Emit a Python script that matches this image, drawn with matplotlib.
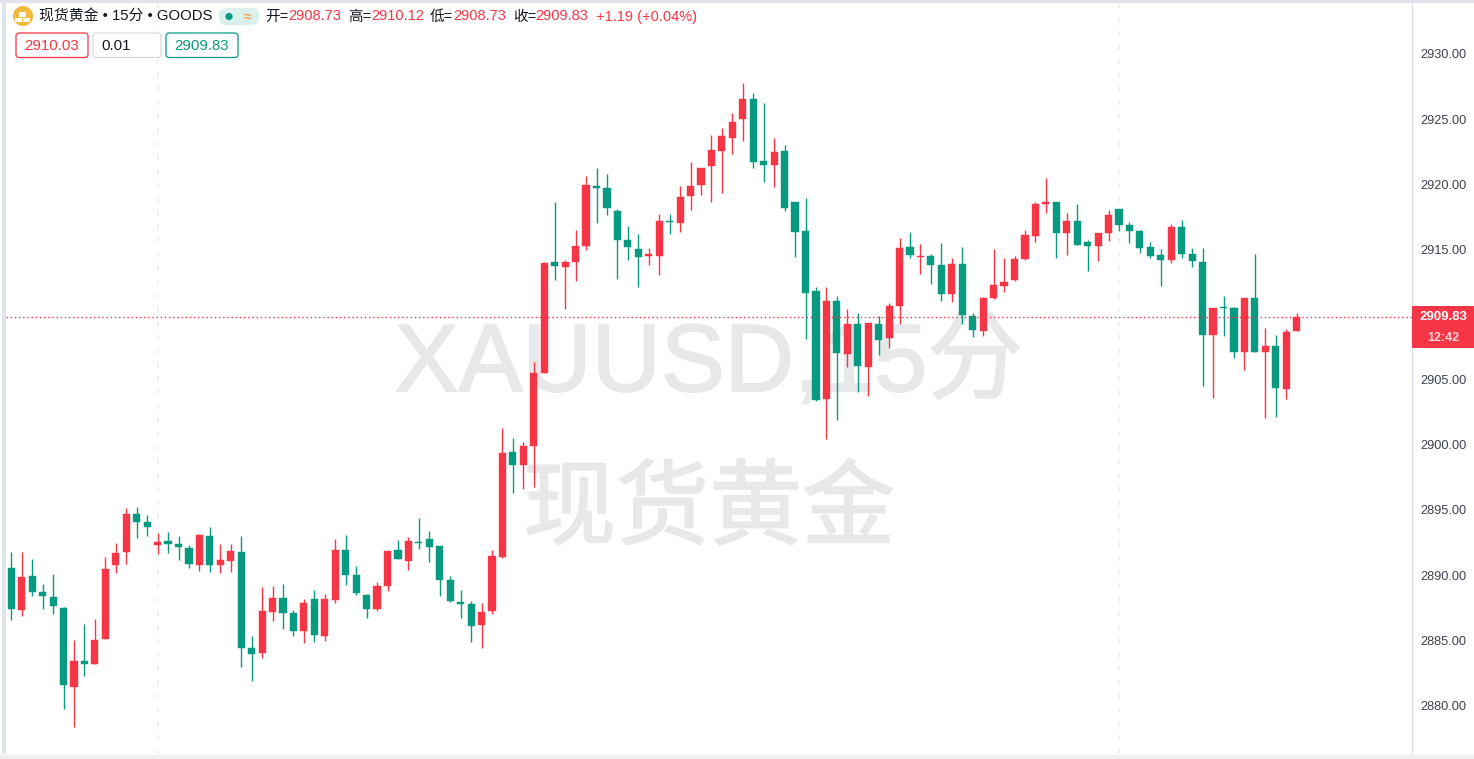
import matplotlib
matplotlib.use("Agg")
import matplotlib.pyplot as plt
import matplotlib.patheffects as pe
from matplotlib.patches import Circle, FancyBboxPatch, Rectangle

plt.rcParams["font.family"] = ["Liberation Sans", "Noto Sans CJK SC", "DejaVu Sans"]

RED = "#F53647"
GREEN = "#089981"
TEXT = "#131722"
AXIS_TEXT = "#3d4250"
FRAME = "#E0E3EB"
MARK = "#E7E8EA"

W, H = 1474, 759

opens = [
    2890.58, 2887.35, 2889.96, 2888.73, 2888.35, 2887.51, 2881.44, 2883.44, 2883.21, 2885.12,
    2890.81, 2891.80, 2894.72, 2894.10, 2892.34, 2892.65, 2892.42, 2892.11, 2890.81, 2893.03,
    2890.81, 2891.11, 2891.80, 2884.43, 2884.05, 2887.20, 2888.27, 2887.12, 2885.74, 2888.20,
    2885.35, 2888.12, 2891.96, 2890.04, 2888.50, 2887.43, 2889.19, 2891.96, 2891.11, 2892.57,
    2892.80, 2892.26, 2889.66, 2887.97, 2887.81, 2886.20, 2887.28, 2891.42, 2899.47, 2898.47,
    2899.93, 2905.53, 2914.06, 2913.67, 2914.06, 2915.29, 2919.89, 2919.74, 2917.98, 2915.75,
    2915.06, 2914.52, 2914.52, 2917.21, 2917.05, 2919.13, 2919.97, 2921.43, 2922.58, 2923.58,
    2925.04, 2926.57, 2921.81, 2921.51, 2922.58, 2918.67, 2916.44, 2911.83, 2903.54, 2911.07,
    2906.99, 2909.30, 2905.99, 2909.30, 2908.23, 2910.68, 2915.21, 2914.44, 2914.52, 2913.83,
    2911.60, 2913.90, 2909.92, 2908.77, 2911.30, 2912.21, 2912.67, 2914.29, 2916.05, 2918.51,
    2918.67, 2916.29, 2917.21, 2915.59, 2915.29, 2916.29, 2918.13, 2916.90, 2916.44, 2915.21,
    2914.60, 2914.21, 2916.75, 2914.67, 2914.06, 2908.46, 2910.61, 2910.53, 2907.15, 2911.30,
    2907.15, 2907.61, 2904.30, 2908.73,
]
highs = [
    2891.80, 2891.80, 2891.27, 2889.35, 2890.12, 2887.58, 2885.05, 2886.28, 2886.66, 2891.42,
    2892.49, 2895.18, 2895.26, 2894.64, 2893.26, 2893.34, 2893.03, 2892.34, 2893.18, 2893.72,
    2892.42, 2892.42, 2893.03, 2885.35, 2889.12, 2889.19, 2889.35, 2887.35, 2888.20, 2888.89,
    2888.58, 2892.80, 2893.11, 2890.73, 2888.58, 2889.50, 2891.88, 2892.72, 2892.95, 2894.41,
    2893.41, 2892.26, 2889.96, 2888.89, 2888.04, 2887.89, 2891.96, 2901.32, 2900.55, 2900.24,
    2906.38, 2914.06, 2918.67, 2914.21, 2916.52, 2920.66, 2921.28, 2920.82, 2918.13, 2916.82,
    2916.21, 2915.13, 2917.75, 2917.75, 2919.89, 2921.74, 2921.28, 2923.81, 2924.35, 2925.50,
    2927.80, 2927.03, 2926.26, 2923.58, 2923.04, 2918.67, 2918.97, 2912.14, 2912.14, 2911.45,
    2910.45, 2910.15, 2909.38, 2909.92, 2910.91, 2915.90, 2916.36, 2915.44, 2914.67, 2915.52,
    2914.36, 2915.21, 2910.15, 2911.37, 2915.06, 2914.36, 2914.52, 2916.52, 2918.67, 2920.51,
    2918.67, 2917.82, 2918.51, 2915.75, 2916.29, 2918.05, 2918.13, 2917.13, 2916.52, 2915.59,
    2915.06, 2916.98, 2917.29, 2915.13, 2915.13, 2910.53, 2911.45, 2910.61, 2911.30, 2914.67,
    2909.00, 2908.46, 2908.92, 2910.12,
]
lows = [
    2886.59, 2886.89, 2888.43, 2887.43, 2887.05, 2879.76, 2878.38, 2882.29, 2883.21, 2885.12,
    2890.19, 2890.88, 2892.88, 2893.03, 2891.65, 2891.73, 2891.19, 2890.58, 2890.35, 2890.27,
    2890.19, 2890.27, 2882.98, 2881.90, 2883.67, 2886.51, 2885.89, 2885.35, 2884.82, 2884.89,
    2884.97, 2887.89, 2889.27, 2888.50, 2886.74, 2887.28, 2888.81, 2891.27, 2890.42, 2892.03,
    2891.04, 2888.43, 2887.97, 2886.74, 2884.89, 2884.43, 2887.05, 2891.34, 2896.32, 2896.63,
    2896.78, 2905.53, 2912.67, 2910.45, 2912.60, 2914.98, 2917.05, 2917.67, 2912.75, 2914.21,
    2912.14, 2913.83, 2913.06, 2916.21, 2916.36, 2918.05, 2919.20, 2918.67, 2919.36, 2922.35,
    2923.35, 2921.28, 2920.20, 2919.82, 2917.98, 2914.44, 2908.15, 2903.39, 2900.47, 2901.93,
    2905.99, 2904.07, 2903.77, 2906.92, 2907.46, 2909.30, 2914.36, 2913.13, 2912.37, 2911.07,
    2910.99, 2909.30, 2908.30, 2908.38, 2911.22, 2911.75, 2912.60, 2914.21, 2915.59, 2917.82,
    2914.36, 2914.60, 2915.37, 2913.37, 2914.13, 2915.67, 2916.44, 2915.52, 2914.75, 2914.36,
    2912.21, 2913.98, 2914.36, 2913.67, 2904.53, 2903.62, 2908.38, 2906.69, 2905.76, 2907.15,
    2902.09, 2902.16, 2903.54, 2908.73,
]
closes = [
    2887.43, 2889.89, 2888.73, 2888.43, 2887.66, 2881.60, 2883.44, 2883.21, 2885.05, 2890.50,
    2891.73, 2894.72, 2894.10, 2893.72, 2892.57, 2892.42, 2892.19, 2890.88, 2893.11, 2890.81,
    2891.19, 2891.88, 2884.43, 2883.97, 2887.28, 2888.27, 2887.12, 2885.74, 2887.89, 2885.43,
    2888.20, 2891.96, 2890.04, 2888.66, 2887.43, 2889.19, 2891.88, 2891.27, 2892.65, 2892.49,
    2892.19, 2889.66, 2888.04, 2887.81, 2886.12, 2887.20, 2891.50, 2899.39, 2898.47, 2899.93,
    2905.53, 2913.98, 2913.75, 2914.06, 2915.29, 2919.97, 2919.74, 2918.21, 2915.75, 2915.21,
    2914.44, 2914.67, 2917.21, 2917.13, 2919.05, 2919.89, 2921.28, 2922.66, 2923.73, 2924.81,
    2926.57, 2921.74, 2921.51, 2922.50, 2918.21, 2916.36, 2911.68, 2903.47, 2911.07, 2907.07,
    2909.30, 2906.07, 2909.38, 2908.07, 2910.68, 2915.13, 2914.60, 2914.52, 2913.83, 2911.60,
    2913.90, 2910.00, 2908.84, 2911.30, 2912.29, 2912.52, 2914.29, 2916.13, 2918.51, 2918.67,
    2916.29, 2917.21, 2915.37, 2915.29, 2916.29, 2917.67, 2916.90, 2916.44, 2915.13, 2914.52,
    2914.21, 2916.75, 2914.67, 2914.13, 2908.46, 2910.53, 2910.53, 2907.15, 2911.30, 2907.15,
    2907.61, 2904.38, 2908.69, 2909.83,
]
y_ticks = [2880, 2885, 2890, 2895, 2900, 2905, 2915, 2920, 2925, 2930]
grid_bars = [14, 106]
last_price = 2909.83

fig = plt.figure(figsize=(W / 100, H / 100), dpi=100, facecolor="white")

# price pane, in pixels: x 6..1412, y 2..754
ax = fig.add_axes([6 / W, (H - 754) / H, 1406 / W, 752 / H])
ax.set_xlim((6 - 11.3) / 10.45, (1412 - 11.3) / 10.45)
ax.set_ylim(2876.27, 2933.99)
ax.set_zorder(1)
for side in ["top", "left", "bottom"]:
    ax.spines[side].set_visible(False)
ax.spines["right"].set_color(FRAME)
ax.spines["right"].set_linewidth(1)
ax.set_xticks([])
ax.yaxis.tick_right()
ax.set_yticks(y_ticks)
ax.set_yticklabels([f"{t}.00" for t in y_ticks])
ax.tick_params(axis="y", length=0, pad=6, labelsize=9.2, labelcolor=AXIS_TEXT)

for b in grid_bars:
    ax.axvline(b, color="#F0F1F6", lw=1.4, linestyle=(0, (2.6, 4.5)), zorder=0)

# watermark sits under the candles
heavy = [pe.withStroke(linewidth=1.3, foreground=MARK)]
ax.text(0.5, 0.5165, "XAUUSD,15分", transform=ax.transAxes, ha="center", va="center",
        fontsize=69, color=MARK, zorder=0.5, path_effects=heavy)
ax.text(0.5, 0.3205, "现货黄金", transform=ax.transAxes, ha="center", va="center",
        fontsize=67, color=MARK, zorder=0.5, path_effects=heavy)

xs = list(range(len(opens)))
colors = [RED if c >= o else GREEN for o, c in zip(opens, closes)]
bottoms = [min(o, c) for o, c in zip(opens, closes)]
heights = [abs(c - o) for o, c in zip(opens, closes)]

ax.vlines(xs, lows, highs, colors=colors, lw=1.0, zorder=2)
ax.bar(xs, heights, width=0.68, bottom=bottoms, color=colors, linewidth=0.3, edgecolor=colors, zorder=3)

ax.axhline(last_price, color=RED, lw=1.0, linestyle=(0, (1.0, 2.0)), zorder=4)

# overlay in pixel coordinates for the toolbar, legend and price tag
ui = fig.add_axes([0, 0, 1, 1])
ui.set_xlim(0, W)
ui.set_ylim(H, 0)
ui.axis("off")
ui.patch.set_alpha(0)
ui.set_zorder(2)

ui.add_patch(Rectangle((0, 0), W, 2.5, color=FRAME, lw=0))
ui.add_patch(Rectangle((2, 0), 4, 754, color=FRAME, lw=0))
ui.add_patch(Rectangle((0, 755), W, 4, color="#EFEFEF", lw=0))

# gold icon
ui.add_patch(Circle((23, 16), 10, color="#F0B93F", lw=0))
for bx, by in [(19.5, 12), (15.5, 17.5), (23.5, 17.5)]:
    ui.add_patch(Rectangle((bx, by), 6.5, 4.5, color="white", lw=0))

ui.text(39, 16, "现货黄金 • 15分 • GOODS", fontsize=10.7, color=TEXT, ha="left", va="center")

# market status pill
ui.add_patch(FancyBboxPatch((219, 8), 40, 17, boxstyle="round,pad=0,rounding_size=7",
                            fc="#DAF0EC", ec="none"))
ui.add_patch(Circle((229, 16.5), 3.6, color=GREEN, lw=0))
ui.text(248, 16.5, "≈", fontsize=10, color="#F7A35C", ha="center", va="center", fontweight="bold")

ohlc_text = [
    (265, "开=", TEXT), (288, "2908.73", RED),
    (348, "高=", TEXT), (371, "2910.12", RED),
    (430, "低=", TEXT), (453, "2908.73", RED),
    (513, "收=", TEXT), (535, "2909.83", RED),
    (596, "+1.19 (+0.04%)", RED),
]
for tx, s, col in ohlc_text:
    ui.text(tx, 16.5, s, fontsize=10.5, color=col, ha="left", va="center")

# bid / spread / ask boxes
boxes = [
    (16, 72, "2910.03", RED, RED),
    (93, 68, "0.01", "#D8DAE3", TEXT),
    (166, 72, "2909.83", GREEN, GREEN),
]
for bx, bw, s, edge, col in boxes:
    ui.add_patch(FancyBboxPatch((bx, 33), bw, 24.5, boxstyle="round,pad=0,rounding_size=3",
                                fc="white", ec=edge, lw=0.9))
    if s == "0.01":
        ui.text(bx + 8, 45.5, s, fontsize=10.8, color=col, ha="left", va="center")
    else:
        ui.text(bx + bw / 2, 45.5, s, fontsize=10.8, color=col, ha="center", va="center")

# last price tag
ui.add_patch(Rectangle((1412, 306), 62, 42, color=RED, lw=0))
ui.text(1443.5, 317, "2909.83", fontsize=9.5, color="white", fontweight="bold", ha="center", va="center")
ui.text(1443.5, 338, "12:42", fontsize=9, color="#FFD5D9", fontweight="bold", ha="center", va="center")

fig.savefig("out.png", dpi=100, facecolor="white")
